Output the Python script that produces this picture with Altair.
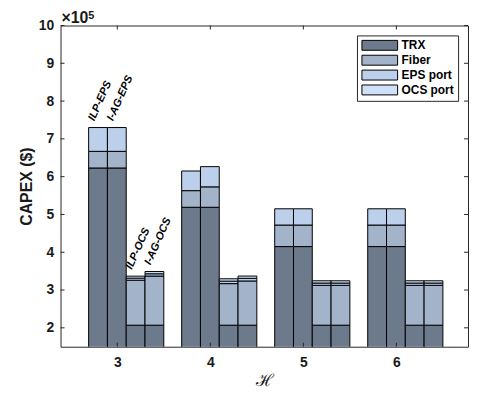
import altair as alt
import pandas as pd

# ---------------- data (CAPEX in units of 1e5 $) ----------------
H = [3, 4, 5, 6]
schemes = ["ILP-EPS", "I-AG-EPS", "ILP-OCS", "I-AG-OCS"]
components = ["TRX", "Fiber", "EPS port", "OCS port"]

trx_ilp_eps = [6.23, 5.19, 4.15, 4.15]
trx_iag_eps = [6.23, 5.19, 4.15, 4.15]
trx_ilp_ocs = [2.07, 2.07, 2.07, 2.07]
trx_iag_ocs = [2.07, 2.07, 2.07, 2.07]

fiber_ilp_eps = [0.44, 0.44, 0.57, 0.57]
fiber_iag_eps = [0.44, 0.54, 0.57, 0.57]
fiber_ilp_ocs = [1.19, 1.10, 1.055, 1.055]
fiber_iag_ocs = [1.30, 1.17, 1.055, 1.055]

eps_ilp_eps = [0.63, 0.52, 0.43, 0.43]
eps_iag_eps = [0.63, 0.535, 0.43, 0.43]
eps_ilp_ocs = [0.055, 0.065, 0.06, 0.06]
eps_iag_ocs = [0.06, 0.07, 0.06, 0.06]

ocs_ilp_eps = [0.0, 0.0, 0.0, 0.0]
ocs_iag_eps = [0.0, 0.0, 0.0, 0.0]
ocs_ilp_ocs = [0.052, 0.063, 0.06, 0.06]
ocs_iag_ocs = [0.06, 0.06, 0.06, 0.06]

y_ticks = [2, 3, 4, 5, 6, 7, 8, 9, 10]
exp_base = ["\u00d710"]
exp_pow = ["5"]

colors = ["#6c7a8b", "#a3b3ca", "#bcd0eb", "#cfe1f8"]

# ---------------- layout ----------------
W, HT = 411, 324
bar_offsets = [-0.207, -0.005, 0.197, 0.399]
half_w = 0.101

series = {
    "ILP-EPS": [trx_ilp_eps, fiber_ilp_eps, eps_ilp_eps, ocs_ilp_eps],
    "I-AG-EPS": [trx_iag_eps, fiber_iag_eps, eps_iag_eps, ocs_iag_eps],
    "ILP-OCS": [trx_ilp_ocs, fiber_ilp_ocs, eps_ilp_ocs, ocs_ilp_ocs],
    "I-AG-OCS": [trx_iag_ocs, fiber_iag_ocs, eps_iag_ocs, ocs_iag_ocs],
}

rows = []
labs = []
for si, s in enumerate(schemes):
    for hi, h in enumerate(H):
        xc = h + bar_offsets[si]
        total = 0.0
        for ci, c in enumerate(components):
            v = series[s][ci][hi]
            total += v
            if v > 0:
                rows.append(dict(H=h, scheme=s, component=c, order=ci, val=v,
                                 xl=xc - half_w, xr=xc + half_w))
        if h == H[0]:
            labs.append(dict(scheme=s, xc=xc, top=total))
df = pd.DataFrame(rows)
dfl = pd.DataFrame(labs)

FONT = "Liberation Sans"
xscale = alt.Scale(domain=[2.39, 6.77], nice=False, zero=False)
yscale = alt.Scale(domain=[1.5, 10], nice=False, zero=False)

xaxis = alt.Axis(values=H, format="d", ticks=False, domain=False, grid=False,
                 labelFont=FONT, labelFontSize=14, labelFontWeight="bold",
                 labelColor="#1a1a1a", labelPadding=9,
                 titleFont="DejaVu Serif", titleFontSize=17, titleFontWeight="normal",
                 titleColor="#1a1a1a", titlePadding=3)
yaxis = alt.Axis(values=y_ticks, format="d", ticks=False, domain=False, grid=False,
                 labelFont=FONT, labelFontSize=14, labelFontWeight="bold",
                 labelColor="#1a1a1a", labelPadding=7,
                 titleFont=FONT, titleFontSize=16, titleFontWeight="bold",
                 titleColor="#1a1a1a", titlePadding=4)

bars = alt.Chart(df).transform_stack(
    stack="val", groupby=["H", "scheme"], as_=["y0", "y1"],
    sort=[alt.SortField("order", order="ascending")]
).mark_rect(stroke="black", strokeWidth=1, clip=True).encode(
    x=alt.X("xl:Q", scale=xscale, axis=xaxis, title="\u210b"),
    x2="xr:Q",
    y=alt.Y("y0:Q", scale=yscale, axis=yaxis, title="CAPEX ($)"),
    y2="y1:Q",
    fill=alt.Fill("component:N", scale=alt.Scale(domain=components, range=colors),
                  sort=components,
                  legend=alt.Legend(orient="none", legendX=299, legendY=10, title=None,
                                    strokeColor="#262626", fillColor="white",
                                    padding=4, labelFont=FONT, labelFontSize=12,
                                    labelFontWeight="bold", labelColor="black",
                                    symbolType="M-1,-1H6.2V1H-1Z", symbolSize=100,
                                    symbolStrokeColor="black", symbolStrokeWidth=1,
                                    symbolOpacity=1, labelOffset=29, rowPadding=1,
                                    cornerRadius=0)),
)

labels = alt.Chart(dfl).mark_text(angle=294, align="left", baseline="middle",
                                  font=FONT, fontSize=11, fontWeight="bold",
                                  fontStyle="italic", color="black", dx=4, dy=-9).encode(
    x=alt.X("xc:Q", scale=xscale, axis=xaxis, title="\u210b"),
    y=alt.Y("top:Q", scale=yscale, axis=yaxis, title="CAPEX ($)"),
    text="scheme:N",
)

dft = pd.DataFrame({"t": y_ticks})
dfx = pd.DataFrame({"t": H})
tick_col = "#262626"
yt_left = alt.Chart(dft).mark_rule(color=tick_col, strokeWidth=1).encode(
    y=alt.Y("t:Q", scale=yscale, axis=yaxis, title="CAPEX ($)"),
    x=alt.value(0), x2=alt.value(4))
yt_right = alt.Chart(dft).mark_rule(color=tick_col, strokeWidth=1).encode(
    y=alt.Y("t:Q", scale=yscale, axis=yaxis, title="CAPEX ($)"),
    x=alt.value(W - 4), x2=alt.value(W))
xt_bot = alt.Chart(dfx).mark_rule(color=tick_col, strokeWidth=1).encode(
    x=alt.X("t:Q", scale=xscale, axis=xaxis, title="\u210b"),
    y=alt.value(HT), y2=alt.value(HT - 4))
xt_top = alt.Chart(dfx).mark_rule(color=tick_col, strokeWidth=1).encode(
    x=alt.X("t:Q", scale=xscale, axis=xaxis, title="\u210b"),
    y=alt.value(0), y2=alt.value(4))

exp1 = alt.Chart(pd.DataFrame({"t": exp_base})).mark_text(
    align="left", baseline="alphabetic", font=FONT, fontSize=16, fontWeight="bold",
    color="#1a1a1a").encode(text="t:N", x=alt.value(1), y=alt.value(-3))
exp2 = alt.Chart(pd.DataFrame({"t": exp_pow})).mark_text(
    align="left", baseline="alphabetic", font=FONT, fontSize=11, fontWeight="bold",
    color="#1a1a1a").encode(text="t:N", x=alt.value(28), y=alt.value(-7))

chart = alt.layer(bars, labels, yt_left, yt_right, xt_bot, xt_top, exp1, exp2).properties(
    width=W, height=HT,
    padding={"left": 10, "top": 0, "right": 0, "bottom": 0},
).configure_view(stroke="#262626", strokeWidth=1)

chart.save("out.html", embed_options={"renderer": "svg", "actions": False})
